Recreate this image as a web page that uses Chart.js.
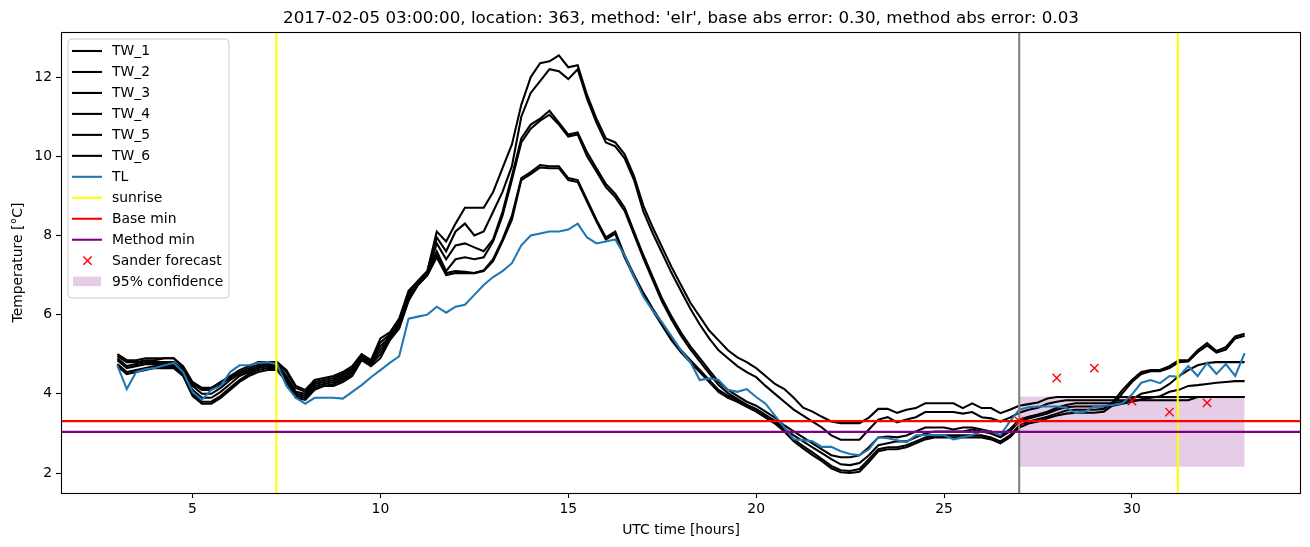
<!DOCTYPE html>
<html>
<head>
<meta charset="utf-8">
<script src="https://cdn.jsdelivr.net/npm/chart.js@4.4.1/dist/chart.umd.min.js"></script>
<style>
html,body{margin:0;padding:0;background:#fff;}
#wrap{width:1310px;height:547px;position:relative;}
</style>
</head>
<body>
<div id="wrap"><canvas id="c" width="1310" height="547"></canvas></div>
<script>
// ---- data ----
const hours = [3.00,3.25,3.50,3.75,4.00,4.25,4.50,4.75,5.00,5.25,5.50,5.75,6.00,6.25,6.50,6.75,7.00,7.25,7.50,7.75,
8.00,8.25,8.50,8.75,9.00,9.25,9.50,9.75,10.00,10.25,10.50,10.75,11.00,11.25,11.50,11.75,12.00,12.25,12.50,12.75,
13.00,13.25,13.50,13.75,14.00,14.25,14.50,14.75,15.00,15.25,15.50,15.75,16.00,16.25,16.50,16.75,17.00,17.25,17.50,17.75,
18.00,18.25,18.50,18.75,19.00,19.25,19.50,19.75,20.00,20.25,20.50,20.75,21.00,21.25,21.50,21.75,22.00,22.25,22.50,22.75,
23.00,23.25,23.50,23.75,24.00,24.25,24.50,24.75,25.00,25.25,25.50,25.75,26.00,26.25,26.50,26.75,27.00,27.25,27.50,27.75,
28.00,28.25,28.50,28.75,29.00,29.25,29.50,29.75,30.00,30.25,30.50,30.75,31.00,31.25,31.50,31.75,32.00,32.25,32.50,32.75,33.00];

const tw1 = [5.00,4.85,4.85,4.90,4.90,4.90,4.90,4.70,4.30,4.15,4.15,4.30,4.45,4.60,4.70,4.80,4.80,4.80,4.60,4.20,
4.10,4.35,4.40,4.45,4.55,4.70,5.00,4.85,5.40,5.55,5.90,6.60,6.85,7.10,8.10,7.85,8.30,8.70,8.70,8.70,
9.10,9.70,10.30,11.30,12.00,12.35,12.40,12.55,12.25,12.30,11.55,10.95,10.45,10.35,10.05,9.50,8.75,8.20,7.70,7.20,
6.75,6.30,5.95,5.60,5.35,5.10,4.92,4.80,4.65,4.45,4.25,4.12,3.90,3.65,3.55,3.42,3.30,3.26,3.26,3.26,
3.40,3.62,3.62,3.52,3.60,3.64,3.76,3.76,3.76,3.76,3.64,3.76,3.64,3.64,3.51,3.60,3.70,3.74,3.78,3.88,
3.92,3.92,3.92,3.92,3.92,3.92,3.92,3.92,3.92,3.92,3.92,3.92,3.92,3.92,3.92,3.92,3.92,3.92,3.92,3.92,3.92];

const tw2 = [4.95,4.80,4.80,4.85,4.85,4.90,4.90,4.65,4.25,4.10,4.10,4.25,4.40,4.55,4.65,4.75,4.80,4.80,4.55,4.15,
4.05,4.30,4.35,4.40,4.50,4.65,4.95,4.80,5.30,5.50,5.85,6.55,6.85,7.10,7.95,7.60,8.10,8.30,8.00,8.10,
8.60,9.10,9.75,11.00,11.60,11.90,12.20,12.15,11.95,12.20,11.45,10.85,10.35,10.25,9.95,9.40,8.60,8.05,7.55,7.05,
6.60,6.15,5.75,5.40,5.10,4.90,4.70,4.55,4.42,4.20,4.00,3.80,3.60,3.45,3.30,3.15,2.95,2.84,2.84,2.84,
3.10,3.35,3.41,3.28,3.35,3.41,3.54,3.54,3.54,3.54,3.50,3.54,3.41,3.38,3.30,3.40,3.52,3.60,3.65,3.75,
3.80,3.84,3.84,3.84,3.84,3.84,3.84,3.84,3.84,3.84,3.84,3.84,3.84,3.84,3.84,3.92,3.92,3.92,3.92,3.92,3.92];

const tw3 = [4.90,4.70,4.75,4.80,4.80,4.80,4.80,4.60,4.20,4.00,4.00,4.15,4.35,4.50,4.60,4.70,4.75,4.75,4.45,4.05,
4.00,4.25,4.30,4.35,4.45,4.60,4.95,4.80,5.20,5.45,5.80,6.50,6.80,7.05,7.80,7.40,7.75,7.80,7.70,7.60,
7.90,8.60,9.50,10.45,10.80,10.95,11.15,10.85,10.55,10.60,10.10,9.70,9.30,9.05,8.70,8.10,7.50,6.95,6.40,5.95,
5.55,5.20,4.90,4.60,4.30,4.10,3.95,3.80,3.70,3.55,3.40,3.20,3.05,2.90,2.75,2.60,2.45,2.40,2.40,2.45,
2.65,2.90,2.92,2.90,2.95,3.05,3.15,3.15,3.15,3.10,3.15,3.15,3.10,3.05,2.95,3.10,3.35,3.42,3.48,3.55,
3.65,3.72,3.76,3.76,3.76,3.76,3.76,3.80,3.86,4.00,4.05,4.10,4.25,4.45,4.60,4.72,4.78,4.80,4.80,4.80,4.80];

const tw4 = [4.85,4.65,4.70,4.75,4.75,4.75,4.75,4.55,4.10,3.90,3.90,4.05,4.25,4.45,4.55,4.65,4.70,4.70,4.40,4.00,
3.95,4.20,4.25,4.30,4.40,4.55,4.90,4.75,5.10,5.45,5.75,6.45,6.80,7.05,7.60,7.10,7.40,7.45,7.40,7.45,
7.85,8.50,9.40,10.35,10.70,10.90,11.05,10.80,10.50,10.55,10.00,9.62,9.22,8.97,8.62,8.02,7.42,6.87,6.32,5.87,
5.47,5.12,4.82,4.52,4.22,4.02,3.87,3.72,3.62,3.47,3.32,3.12,2.95,2.80,2.65,2.50,2.35,2.22,2.20,2.25,
2.45,2.70,2.75,2.80,2.80,2.90,3.00,3.05,3.05,3.05,3.05,3.10,3.05,3.00,2.90,3.05,3.30,3.38,3.44,3.50,
3.60,3.66,3.68,3.68,3.68,3.68,3.70,3.75,3.80,3.86,3.90,3.94,4.05,4.10,4.20,4.22,4.25,4.28,4.30,4.32,4.32];

const tw5 = [4.75,4.55,4.60,4.65,4.70,4.70,4.70,4.50,4.00,3.80,3.80,3.95,4.15,4.35,4.50,4.60,4.65,4.65,4.35,3.95,
3.90,4.15,4.20,4.25,4.35,4.50,4.90,4.75,5.00,5.40,5.70,6.40,6.75,7.00,7.50,7.05,7.10,7.08,7.05,7.12,
7.40,7.90,8.50,9.45,9.60,9.78,9.75,9.75,9.45,9.40,8.90,8.40,7.95,8.10,7.50,7.00,6.55,6.15,5.78,5.40,
5.10,4.85,4.60,4.35,4.10,3.95,3.85,3.72,3.60,3.45,3.30,3.10,2.85,2.68,2.52,2.35,2.18,2.07,2.05,2.10,
2.35,2.60,2.65,2.65,2.70,2.80,2.90,2.95,2.95,2.95,2.95,2.95,2.95,2.90,2.80,2.95,3.20,3.30,3.36,3.42,
3.50,3.58,3.60,3.60,3.60,3.62,3.80,4.10,4.35,4.55,4.60,4.60,4.70,4.85,4.85,5.10,5.28,5.08,5.18,5.45,5.52];

const tw6 = [4.70,4.50,4.55,4.60,4.65,4.65,4.65,4.45,3.95,3.75,3.75,3.90,4.10,4.30,4.45,4.55,4.60,4.60,4.30,3.90,
3.85,4.10,4.20,4.20,4.30,4.45,4.85,4.70,4.90,5.35,5.65,6.35,6.75,7.00,7.45,7.00,7.05,7.05,7.05,7.10,
7.35,7.85,8.40,9.40,9.55,9.72,9.70,9.70,9.40,9.35,8.85,8.35,7.90,8.05,7.45,6.95,6.50,6.10,5.72,5.35,
5.05,4.80,4.55,4.30,4.05,3.90,3.80,3.67,3.55,3.40,3.25,3.05,2.80,2.62,2.45,2.30,2.12,2.02,2.00,2.03,
2.28,2.55,2.60,2.60,2.65,2.75,2.85,2.90,2.90,2.90,2.90,2.90,2.90,2.85,2.75,2.90,3.15,3.25,3.30,3.38,
3.45,3.50,3.52,3.52,3.52,3.55,3.72,4.02,4.30,4.50,4.57,4.57,4.65,4.80,4.82,5.05,5.22,5.04,5.12,5.40,5.47];

const tl = [4.72,4.12,4.55,4.62,4.65,4.72,4.78,4.55,4.05,3.85,4.10,4.20,4.55,4.72,4.72,4.78,4.80,4.75,4.20,3.90,
3.75,3.90,3.90,3.90,3.88,4.05,4.22,4.42,4.60,4.78,4.95,5.90,5.95,6.00,6.20,6.05,6.20,6.25,6.50,6.75,
6.95,7.10,7.30,7.75,8.00,8.05,8.10,8.10,8.15,8.30,7.95,7.80,7.85,7.90,7.50,6.95,6.45,6.10,5.80,5.45,
5.10,4.80,4.35,4.39,4.35,4.10,4.05,4.12,3.92,3.75,3.45,3.15,2.85,2.83,2.80,2.66,2.66,2.55,2.48,2.45,
2.60,2.90,2.88,2.83,2.78,2.95,2.96,2.96,2.96,2.85,2.90,2.96,3.05,3.05,2.96,3.30,3.60,3.66,3.68,3.68,
3.68,3.65,3.52,3.55,3.68,3.70,3.72,3.76,3.98,4.28,4.35,4.27,4.45,4.43,4.70,4.45,4.78,4.50,4.75,4.45,5.03];

const sanderHours = [27, 28, 29, 30, 31, 32];
const sanderTemp  = [3.31, 4.40, 4.65, 3.82, 3.54, 3.77];

const sunriseHours = [7.23, 31.22];
const forecastStart = 27.0;
const baseMin = 3.31;
const methodMin = 3.04;
const confHours = [27.0, 33.0];
const confLow = 2.16;
const confHigh = 3.93;

const xTicks = [5, 10, 15, 20, 25, 30];
const yTicks = [2, 4, 6, 8, 10, 12];
const X_MIN = 1.5, X_MAX = 34.5, Y_MIN = 1.495, Y_MAX = 13.14;

const titleText = "2017-02-05 03:00:00, location: 363, method: 'elr', base abs error: 0.30, method abs error: 0.03";
const xLabel = "UTC time [hours]";
const yLabel = "Temperature [\u00B0C]";

// ---- build datasets ----
const FONT = "'DejaVu Sans', 'Liberation Sans', sans-serif";
const LW = 2.08;
const toXY = arr => hours.map((h, i) => ({x: h, y: arr[i]}));
const twSeries = [tw1, tw2, tw3, tw4, tw5, tw6];
const datasets = [];

twSeries.forEach((s, i) => datasets.push({
  label: 'TW_' + (i + 1), data: toXY(s), borderColor: '#000000', borderWidth: LW,
  pointRadius: 0, tension: 0, fill: false, order: 20 - i, legendKind: 'line'
}));
datasets.push({label: 'TL', data: toXY(tl), borderColor: '#1f77b4', borderWidth: LW,
  pointRadius: 0, tension: 0, fill: false, order: 8, legendKind: 'line'});
sunriseHours.forEach((h, i) => datasets.push({
  label: 'sunrise', data: [{x: h, y: Y_MIN}, {x: h, y: Y_MAX}], borderColor: '#ffff00', borderWidth: LW,
  pointRadius: 0, fill: false, order: 6, legendKind: i === 0 ? 'line' : null
}));
datasets.push({label: 'Base min', data: [{x: X_MIN, y: baseMin}, {x: X_MAX, y: baseMin}], borderColor: '#ff0000',
  borderWidth: LW, pointRadius: 0, fill: false, order: 5, legendKind: 'line'});
datasets.push({label: 'Method min', data: [{x: X_MIN, y: methodMin}, {x: X_MAX, y: methodMin}], borderColor: '#800080',
  borderWidth: LW, pointRadius: 0, fill: false, order: 5, legendKind: 'line'});
datasets.push({label: 'forecast start', data: [{x: forecastStart, y: Y_MIN}, {x: forecastStart, y: Y_MAX}], borderColor: '#808080',
  borderWidth: LW, pointRadius: 0, fill: false, order: 5, legendKind: null});
datasets.push({label: 'Sander forecast', data: sanderHours.map((h, i) => ({x: h, y: sanderTemp[i]})),
  showLine: false, pointStyle: 'crossRot', pointRadius: 5.9, pointBorderWidth: 1.4,
  borderColor: '#ff0000', backgroundColor: '#ff0000', order: 1, legendKind: 'marker'});
const lowIdx = datasets.length;
datasets.push({label: 'conf low', data: confHours.map(h => ({x: h, y: confLow})), borderWidth: 0,
  borderColor: 'rgba(0,0,0,0)', pointRadius: 0, fill: false, order: 40, legendKind: null});
datasets.push({label: '95% confidence', data: confHours.map(h => ({x: h, y: confHigh})), borderWidth: 0,
  borderColor: 'rgba(0,0,0,0)', backgroundColor: 'rgba(128,0,128,0.2)', pointRadius: 0,
  fill: {target: lowIdx}, order: 41, legendKind: 'patch'});

// ---- plugins ----
const framePlugin = {
  id: 'frame',
  afterDraw(chart) {
    const {ctx, chartArea: a} = chart;
    ctx.save();
    ctx.strokeStyle = '#000'; ctx.lineWidth = 1.1;
    ctx.strokeRect(Math.round(a.left) + 0.5, Math.round(a.top) + 0.5, Math.round(a.right - a.left) - 1, Math.round(a.bottom - a.top));
    // title
    ctx.fillStyle = '#000';
    ctx.font = '16.7px ' + FONT;
    ctx.textAlign = 'center'; ctx.textBaseline = 'alphabetic';
    const cx = (a.left + a.right) / 2;
    ctx.fillText(titleText, cx, 23);
    // axis labels
    ctx.font = '13.9px ' + FONT;
    ctx.textBaseline = 'middle';
    ctx.fillText(xLabel, cx, 530);
    ctx.save();
    ctx.translate(18, (a.top + a.bottom) / 2);
    ctx.rotate(-Math.PI / 2);
    ctx.fillText(yLabel, 0, 0);
    ctx.restore();
    // legend
    const items = chart.data.datasets.filter(d => d.legendKind);
    const bx = 68, by = 39, bw = 161, bh = 259, r = 4;
    ctx.beginPath();
    ctx.moveTo(bx + r, by); ctx.lineTo(bx + bw - r, by); ctx.quadraticCurveTo(bx + bw, by, bx + bw, by + r);
    ctx.lineTo(bx + bw, by + bh - r); ctx.quadraticCurveTo(bx + bw, by + bh, bx + bw - r, by + bh);
    ctx.lineTo(bx + r, by + bh); ctx.quadraticCurveTo(bx, by + bh, bx, by + bh - r);
    ctx.lineTo(bx, by + r); ctx.quadraticCurveTo(bx, by, bx + r, by);
    ctx.closePath();
    ctx.fillStyle = 'rgba(255,255,255,0.8)'; ctx.fill();
    ctx.strokeStyle = '#cccccc'; ctx.lineWidth = 1; ctx.stroke();
    items.forEach((d, i) => {
      const y = 51 + i * 20.97;
      if (d.legendKind === 'line') {
        ctx.strokeStyle = d.borderColor; ctx.lineWidth = LW;
        ctx.beginPath(); ctx.moveTo(72, y); ctx.lineTo(102, y); ctx.stroke();
      } else if (d.legendKind === 'marker') {
        ctx.strokeStyle = d.borderColor; ctx.lineWidth = 1.4;
        const s = 4.15, mx = 87.5;
        ctx.beginPath(); ctx.moveTo(mx - s, y - s); ctx.lineTo(mx + s, y + s);
        ctx.moveTo(mx - s, y + s); ctx.lineTo(mx + s, y - s); ctx.stroke();
      } else if (d.legendKind === 'patch') {
        ctx.fillStyle = d.backgroundColor;
        ctx.fillRect(73, y - 5, 28, 9.5);
      }
      ctx.fillStyle = '#000'; ctx.font = '13.9px ' + FONT;
      ctx.textAlign = 'left'; ctx.textBaseline = 'middle';
      ctx.fillText(d.label, 112, y + 0.5);
    });
    ctx.restore();
  }
};

const tickFont = {family: FONT, size: 13.9};
new Chart(document.getElementById('c'), {
  type: 'line',
  data: {datasets},
  options: {
    responsive: false, animation: false, devicePixelRatio: 1,
    parsing: true,
    layout: {padding: {left: 0, right: 9, top: 32, bottom: 0}},
    plugins: {legend: {display: false}, tooltip: {enabled: false}, title: {display: false}},
    scales: {
      x: {
        type: 'linear', min: X_MIN, max: X_MAX,
        afterBuildTicks: s => { s.ticks = xTicks.map(v => ({value: v})); },
        afterFit: s => { s.height = 54; },
        ticks: {font: tickFont, color: '#000', padding: 3, maxRotation: 0, autoSkip: false, callback: v => String(v)},
        grid: {display: true, drawOnChartArea: false, drawTicks: true, tickLength: 5, tickColor: '#000', tickWidth: 1.1},
        border: {display: false}
      },
      y: {
        type: 'linear', min: Y_MIN, max: Y_MAX,
        afterBuildTicks: s => { s.ticks = yTicks.map(v => ({value: v})); },
        afterFit: s => { s.width = 61; },
        ticks: {font: tickFont, color: '#000', padding: 4, autoSkip: false, callback: v => String(v)},
        grid: {display: true, drawOnChartArea: false, drawTicks: true, tickLength: 5, tickColor: '#000', tickWidth: 1.1},
        border: {display: false}
      }
    }
  },
  plugins: [framePlugin]
});
</script>
</body>
</html>
